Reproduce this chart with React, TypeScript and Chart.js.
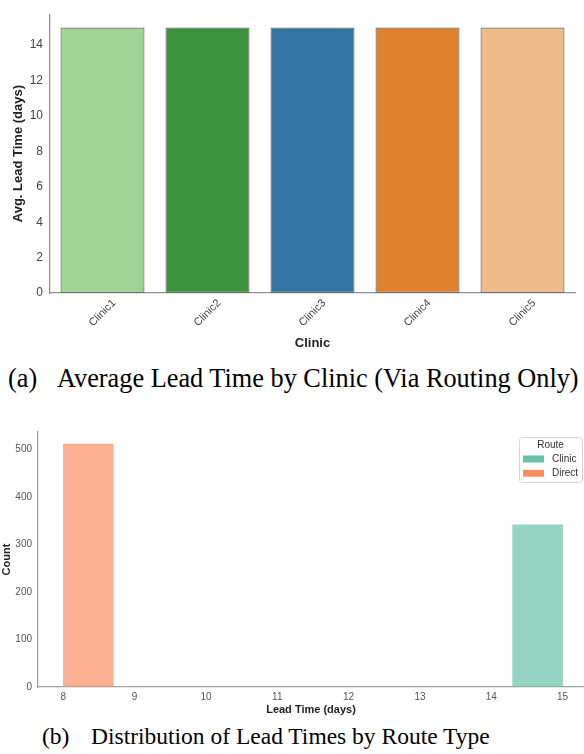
import React, { useEffect, useRef } from "react";
import { Chart, registerables } from "chart.js";

Chart.register(...registerables);

// ---------- data: (a) average lead time by clinic ----------
const clinics = ["Clinic1", "Clinic2", "Clinic3", "Clinic4", "Clinic5"];
const avgLeadTime = [15, 15, 15, 15, 15];
const clinicColors = ["#9fd495", "#3a923a", "#3274a1", "#e1812c", "#eebb89"];
const avgTicks = [0, 2, 4, 6, 8, 10, 12, 14];

// ---------- data: (b) distribution of lead times by route ----------
const routes = ["Clinic", "Direct"];
const routeColors = ["#66c2a5", "#fc8d62"];
const routeFills = ["rgba(102,194,165,0.7)", "rgba(252,141,98,0.7)"];
const binCenters = [8.35, 9.05, 9.75, 10.45, 11.15, 11.85, 12.55, 13.25, 13.95, 14.65];
const clinicCounts = [0, 0, 0, 0, 0, 0, 0, 0, 0, 341];
const directCounts = [511, 0, 0, 0, 0, 0, 0, 0, 0, 0];
const leadTicks = [8, 9, 10, 11, 12, 13, 14, 15];
const countTicks = [0, 100, 200, 300, 400, 500];

const SANS = '"Liberation Sans", Arial, Helvetica, sans-serif';
const SERIF = '"Liberation Serif", "Times New Roman", Times, serif';

const rotatedTickLabels = {
  id: "rotatedTickLabels",
  afterDraw(chart: any) {
    const { ctx, chartArea } = chart;
    const xs = chart.scales.x;
    const labels: string[] = chart.data.labels;
    ctx.save();
    ctx.font = `11px ${SANS}`;
    ctx.fillStyle = "#444";
    ctx.textAlign = "center";
    ctx.textBaseline = "middle";
    labels.forEach((lab, i) => {
      ctx.save();
      ctx.translate(xs.getPixelForValue(i), chartArea.bottom + 20);
      ctx.rotate(-Math.PI / 4);
      ctx.fillText(lab, 0, 0);
      ctx.restore();
    });
    ctx.restore();
  },
};

const routeLegend = {
  id: "routeLegend",
  afterDraw(chart: any) {
    const { ctx, chartArea } = chart;
    const w = 63;
    const h = 45;
    const x = chartArea.right - 65;
    const y = chartArea.top + 5;
    ctx.save();
    ctx.beginPath();
    if (ctx.roundRect) ctx.roundRect(x + 0.5, y + 0.5, w, h, 3);
    else ctx.rect(x + 0.5, y + 0.5, w, h);
    ctx.fillStyle = "rgba(255,255,255,0.85)";
    ctx.fill();
    ctx.strokeStyle = "#d6d6d6";
    ctx.lineWidth = 1;
    ctx.stroke();
    ctx.font = `10px ${SANS}`;
    ctx.fillStyle = "#333";
    ctx.textAlign = "center";
    ctx.textBaseline = "middle";
    ctx.fillText("Route", x + w / 2, y + 8);
    chart.data.datasets.forEach((ds: any, i: number) => {
      const cy = y + 22 + i * 14.3;
      ctx.fillStyle = routeColors[i];
      ctx.fillRect(x + 4, cy - 3.5, 21, 7);
      ctx.fillStyle = "#333";
      ctx.textAlign = "left";
      ctx.fillText(ds.label, x + 33, cy);
    });
    ctx.restore();
  },
};

function ClinicChart() {
  const ref = useRef<HTMLCanvasElement>(null);
  useEffect(() => {
    const chart = new Chart(ref.current as HTMLCanvasElement, {
      type: "bar",
      data: {
        labels: clinics,
        datasets: [
          {
            data: avgLeadTime,
            backgroundColor: clinicColors,
            borderColor: "#6e6e6e",
            borderWidth: 1.2,
            borderSkipped: false,
            categoryPercentage: 0.8,
            barPercentage: 1,
          } as any,
        ],
      },
      options: {
        animation: false,
        responsive: false,
        devicePixelRatio: 1,
        layout: { padding: { top: 7, right: 9, left: 0, bottom: 0 } },
        plugins: { legend: { display: false }, tooltip: { enabled: false } },
        scales: {
          x: {
            grid: { display: false, drawTicks: false },
            border: { color: "#8f8f8f", width: 1.3 },
            ticks: { display: false },
            title: {
              display: true,
              text: "Clinic",
              font: { size: 13, weight: "bold", family: SANS },
              color: "#222",
              padding: { top: 0, bottom: 4 },
            },
            afterFit: (s: any) => {
              s.height = 62;
            },
          },
          y: {
            min: 0,
            max: 15.75,
            grid: { display: false, drawTicks: false },
            border: { color: "#8f8f8f", width: 1.3 },
            ticks: { font: { size: 12, family: SANS }, color: "#444", padding: 7 },
            afterBuildTicks: (s: any) => {
              s.ticks = avgTicks.map((v) => ({ value: v }));
            },
            title: {
              display: true,
              text: "Avg. Lead Time (days)",
              font: { size: 13, weight: "bold", family: SANS },
              color: "#222",
              padding: { top: 10.5, bottom: 0 },
            },
            afterFit: (s: any) => {
              s.width = 50;
            },
          },
        },
      } as any,
      plugins: [rotatedTickLabels],
    });
    return () => chart.destroy();
  }, []);
  return <canvas ref={ref} width={584} height={355} style={{ display: "block" }} />;
}

function RouteChart() {
  const ref = useRef<HTMLCanvasElement>(null);
  useEffect(() => {
    const chart = new Chart(ref.current as HTMLCanvasElement, {
      type: "bar",
      data: {
        datasets: [
          {
            label: routes[0],
            data: binCenters.map((x, i) => ({ x, y: clinicCounts[i] })),
            backgroundColor: routeFills[0],
            borderWidth: 0,
            grouped: false,
            barPercentage: 1,
            categoryPercentage: 1,
          } as any,
          {
            label: routes[1],
            data: binCenters.map((x, i) => ({ x, y: directCounts[i] })),
            backgroundColor: routeFills[1],
            borderWidth: 0,
            grouped: false,
            barPercentage: 1,
            categoryPercentage: 1,
          } as any,
        ],
      },
      options: {
        animation: false,
        responsive: false,
        devicePixelRatio: 1,
        layout: { padding: { top: 11, right: 0, left: 0, bottom: 0 } },
        plugins: { legend: { display: false }, tooltip: { enabled: false } },
        scales: {
          x: {
            type: "linear",
            offset: false,
            min: 7.645,
            max: 15.3,
            grid: { display: false, drawTicks: false },
            border: { color: "#a0a0a0", width: 1.3 },
            ticks: { font: { size: 10, family: SANS }, color: "#555", padding: 4 },
            afterBuildTicks: (s: any) => {
              s.ticks = leadTicks.map((v) => ({ value: v }));
            },
            title: {
              display: true,
              text: "Lead Time (days)",
              font: { size: 11, weight: "bold", family: SANS },
              color: "#222",
              padding: { top: 0, bottom: 3 },
            },
            afterFit: (s: any) => {
              s.height = 33;
            },
          },
          y: {
            min: 0,
            max: 536.5,
            grid: { display: false, drawTicks: false },
            border: { color: "#a0a0a0", width: 1.3 },
            ticks: { font: { size: 10, family: SANS }, color: "#555", padding: 6 },
            afterBuildTicks: (s: any) => {
              s.ticks = countTicks.map((v) => ({ value: v }));
            },
            title: {
              display: true,
              text: "Count",
              font: { size: 11, weight: "bold", family: SANS },
              color: "#222",
              padding: { top: 0.5, bottom: 0 },
            },
            afterFit: (s: any) => {
              s.width = 38;
            },
          },
        },
      } as any,
      plugins: [routeLegend],
    });
    return () => chart.destroy();
  }, []);
  return <canvas ref={ref} width={584} height={300} style={{ display: "block" }} />;
}

export default function App() {
  const capA: React.CSSProperties = {
    position: "absolute",
    top: 366,
    fontFamily: SERIF,
    fontSize: 26.3,
    lineHeight: "26px",
    color: "#000",
    whiteSpace: "nowrap",
  };
  const capB: React.CSSProperties = {
    position: "absolute",
    top: 725,
    fontFamily: SERIF,
    fontSize: 23.5,
    lineHeight: "23.5px",
    color: "#000",
    whiteSpace: "nowrap",
  };
  return (
    <div
      style={{
        position: "absolute",
        left: 0,
        top: 0,
        width: 584,
        height: 754,
        background: "#fff",
        overflow: "hidden",
      }}
    >
      <div style={{ position: "absolute", left: 0, top: 0 }}>
        <ClinicChart />
      </div>
      <div style={{ ...capA, left: 8 }}>(a)</div>
      <div style={{ ...capA, left: 57 }}>Average Lead Time by Clinic (Via Routing Only)</div>
      <div style={{ position: "absolute", left: 0, top: 420 }}>
        <RouteChart />
      </div>
      <div style={{ ...capB, left: 42 }}>(b)</div>
      <div style={{ ...capB, left: 91 }}>Distribution of Lead Times by Route Type</div>
    </div>
  );
}
